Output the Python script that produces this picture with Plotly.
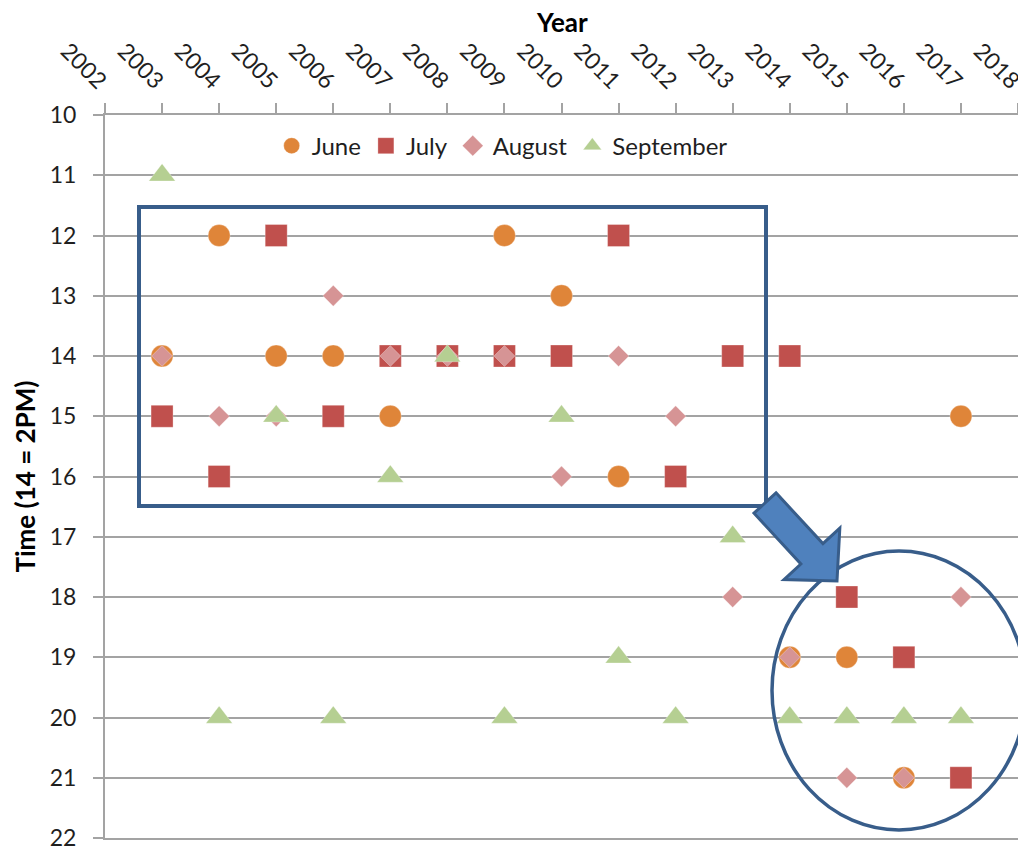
import plotly.graph_objects as go

# Hour of the day (24h clock) recorded each year, one series per month
june_years = [2003, 2004, 2005, 2006, 2007, 2009, 2010, 2011, 2014, 2015, 2016, 2017]
june_hours = [14, 12, 14, 14, 15, 12, 13, 16, 19, 19, 21, 15]

july_years = [2003, 2004, 2005, 2006, 2007, 2008, 2009, 2010, 2011, 2012, 2013, 2014, 2015, 2016, 2017]
july_hours = [15, 16, 12, 15, 14, 14, 14, 14, 12, 16, 14, 14, 18, 19, 21]

august_years = [2003, 2004, 2005, 2006, 2007, 2008, 2009, 2010, 2011, 2012, 2013, 2014, 2015, 2016, 2017]
august_hours = [14, 15, 15, 13, 14, 14, 14, 16, 14, 15, 18, 19, 21, 21, 18]

september_years = [2003, 2004, 2005, 2006, 2007, 2008, 2009, 2010, 2011, 2012, 2013, 2014, 2015, 2016, 2017]
september_hours = [11, 20, 15, 20, 16, 14, 20, 15, 19, 20, 17, 20, 20, 20, 20]

year_ticks = list(range(2002, 2019))
hour_ticks = list(range(10, 23))

FONT = "Lato"
W, H = 1018, 852
ML, MR, MT, MB = 105, 0, 115, 14
X_RANGE = (2002, 2018)
Y_RANGE = (22, 10)
GRID = "#A3A3A3"

# pixels per axis unit, used to build the callout shapes in data space
KX = (W - ML - MR) / (X_RANGE[1] - X_RANGE[0])
KY = (H - MT - MB) / (Y_RANGE[0] - Y_RANGE[1])


def to_data(px, py):
    return X_RANGE[0] + (px - ML) / KX, Y_RANGE[1] + (py - MT) / KY


series = [
    ("June", june_years, june_hours, "circle", 22, "#DF8539"),
    ("July", july_years, july_hours, "square", 22, "#C0504D"),
    ("August", august_years, august_hours, "diamond", 16, "#D69495"),
    ("September", september_years, september_hours, "triangle-up", 23, "#B5CF92"),
]

fig = go.Figure()
for name, xs, ys, sym, size, color in series:
    fig.add_trace(go.Scatter(
        x=xs, y=ys, mode="markers", name=name,
        marker=dict(symbol=sym, size=size, color=color,
                    line=dict(width=0.6, color="rgba(255,255,255,0.5)")),
    ))

BLUE_LINE = "#385D8A"
shapes = []

# rectangle around the early afternoon cluster
rx0, ry0 = to_data(139, 207)
rx1, ry1 = to_data(766, 506)
shapes.append(dict(type="rect", xref="x", yref="y", x0=rx0, y0=ry0, x1=rx1, y1=ry1,
                   line=dict(color=BLUE_LINE, width=4), fillcolor="rgba(0,0,0,0)", layer="above"))

# ellipse around the late evening cluster
ex0, ey0 = to_data(772, 551)
ex1, ey1 = to_data(1026, 830)
shapes.append(dict(type="circle", xref="x", yref="y", x0=ex0, y0=ey0, x1=ex1, y1=ey1,
                   line=dict(color=BLUE_LINE, width=3.5), fillcolor="rgba(0,0,0,0)", layer="above"))

# block arrow pointing from the rectangle to the ellipse
tail = (765.0, 503.0)
tip = (837.0, 581.0)
dx, dy = tip[0] - tail[0], tip[1] - tail[1]
length = (dx ** 2 + dy ** 2) ** 0.5
ux, uy = dx / length, dy / length
nx, ny = uy, -ux
shaft_hw, head_hw, head_len = 15.0, 38.0, 37.0
base = (tail[0] + ux * (length - head_len), tail[1] + uy * (length - head_len))
pts_px = [
    (tail[0] + nx * shaft_hw, tail[1] + ny * shaft_hw),
    (base[0] + nx * shaft_hw, base[1] + ny * shaft_hw),
    (base[0] + nx * head_hw, base[1] + ny * head_hw),
    tip,
    (base[0] - nx * head_hw, base[1] - ny * head_hw),
    (base[0] - nx * shaft_hw, base[1] - ny * shaft_hw),
    (tail[0] - nx * shaft_hw, tail[1] - ny * shaft_hw),
]
pts = [to_data(px, py) for px, py in pts_px]
path = "M " + " L ".join(f"{x:.4f},{y:.4f}" for x, y in pts) + " Z"
shapes.append(dict(type="path", xref="x", yref="y", path=path,
                   fillcolor="#4F81BD", line=dict(color=BLUE_LINE, width=3), layer="above"))

fig.update_layout(
    width=W, height=H,
    margin=dict(l=ML, r=MR, t=MT, b=MB, autoexpand=False),
    paper_bgcolor="white", plot_bgcolor="white",
    font=dict(family=FONT, size=23, color="#1F1F1F"),
    showlegend=True,
    legend=dict(orientation="h", x=0.435, y=0.957, xanchor="center", yanchor="middle",
                bgcolor="rgba(0,0,0,0)", font=dict(family=FONT, size=24, color="#1F1F1F"),
                itemsizing="trace", tracegroupgap=0),
    shapes=shapes,
    annotations=[
        dict(text="<b>Year</b>", xref="paper", yref="paper", x=0.5, y=1 + (MT - 22) / (H - MT - MB),
             xanchor="center", yanchor="middle", showarrow=False,
             font=dict(family=FONT, size=26, color="#000000")),
        dict(text="<b>Time (14 = 2PM)</b>", xref="paper", yref="paper",
             x=-(ML - 24) / (W - ML - MR), y=0.5, xanchor="center", yanchor="middle",
             textangle=-90, showarrow=False,
             font=dict(family=FONT, size=26, color="#000000")),
    ],
)

fig.update_xaxes(
    range=list(X_RANGE), side="top", tickmode="array", tickvals=year_ticks,
    ticktext=[str(v) for v in year_ticks], tickangle=45, ticklabeloverflow="allow",
    ticks="outside", ticklen=10, tickcolor=GRID, tickwidth=1.5,
    showline=True, mirror=True, linecolor=GRID, linewidth=2,
    showgrid=False, zeroline=False,
    tickfont=dict(family=FONT, size=23, color="#1F1F1F"),
)
fig.update_yaxes(
    range=list(Y_RANGE), tickmode="array", tickvals=hour_ticks,
    ticks="outside", ticklen=10, tickcolor=GRID, tickwidth=1.5,
    showline=True, linecolor=GRID, linewidth=2,
    showgrid=True, gridcolor=GRID, gridwidth=2, zeroline=False,
    ticklabelstandoff=12,
    tickfont=dict(family=FONT, size=23, color="#1F1F1F"),
)

fig.write_html("out.html")
